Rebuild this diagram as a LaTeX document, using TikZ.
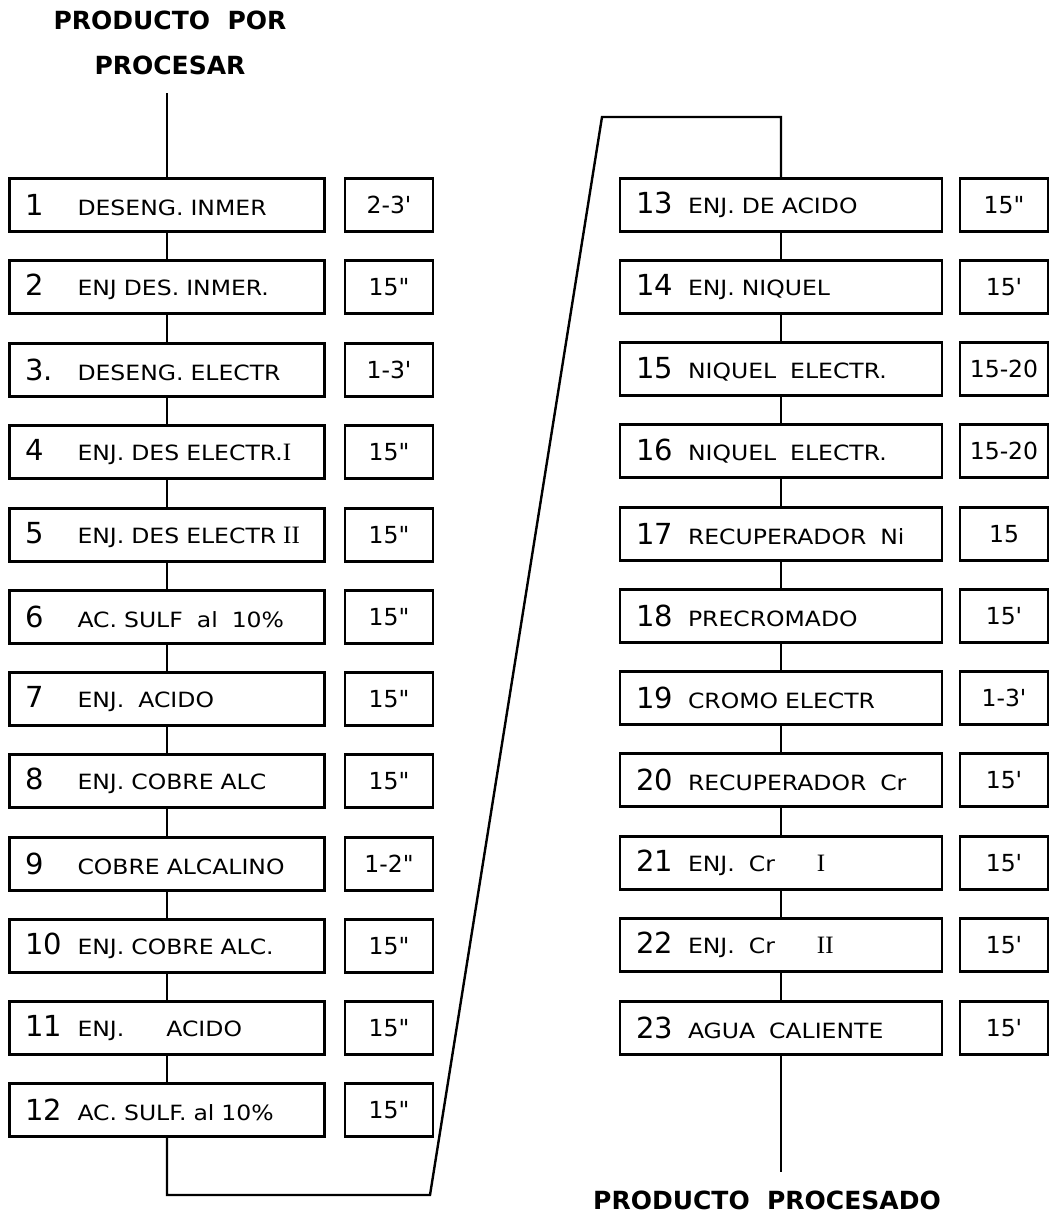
\documentclass[tikz,border=0pt]{standalone}
\usepackage{fontspec}
\setmainfont{DejaVu Sans}
\newfontfamily\lblfont[FakeStretch=1.12]{DejaVu Sans}
\newfontfamily\numfont{DejaVu Sans}
\newfontfamily\romfont{Liberation Serif}
\newcommand\nm[1]{\makebox[52pt][l]{\numfont\fontsize{29}{29}\selectfont #1}}
\newcommand\rn[1]{{\romfont\fontsize{25}{25}\selectfont #1}}
\begin{document}
\begin{tikzpicture}[x=1pt,y=-1pt,
  stepbox/.style={draw, line width=2.4pt, minimum height=53pt, inner xsep=16pt, inner ysep=0pt,
    font=\lblfont\fontsize{21}{22}\selectfont, align=left},
  lbox/.style={stepbox, text width=283pt},
  rbox/.style={stepbox, text width=290pt},
  tbox/.style={draw, line width=2.4pt, minimum width=88pt, minimum height=53pt, inner sep=0pt,
    font=\numfont\fontsize{23.5}{24}\selectfont},
  conn/.style={line width=2.4pt},
  title/.style={font=\bfseries\fontsize{25}{45}\selectfont, align=center, inner sep=0pt}
]
\useasboundingbox (0,0) rectangle (1054,1216);

% titles
\node[title] (top) at (170,43) {PRODUCTO\ \ POR\\PROCESAR};
\coordinate (topend) at (167,93);
\node[title] (bottom) at (767,1200) {PRODUCTO\ \ PROCESADO};
\coordinate (botend) at (781,1172);

% left column
\node[lbox] (b1)  at (167,205) {\nm{1}DESENG. INMER};
\node[lbox] (b2)  at (167,287) {\nm{2}ENJ DES. INMER.};
\node[lbox] (b3)  at (167,370) {\nm{3.}DESENG. ELECTR};
\node[lbox] (b4)  at (167,452) {\nm{4}ENJ. DES ELECTR.\rn{I}};
\node[lbox] (b5)  at (167,535) {\nm{5}ENJ. DES ELECTR \rn{II}};
\node[lbox] (b6)  at (167,617) {\nm{6}AC. SULF\ \ al\ \ 10\%};
\node[lbox] (b7)  at (167,699) {\nm{7}ENJ.\ \ ACIDO};
\node[lbox] (b8)  at (167,781) {\nm{8}ENJ. COBRE ALC};
\node[lbox] (b9)  at (167,864) {\nm{9}COBRE ALCALINO};
\node[lbox] (b10) at (167,946) {\nm{10}ENJ. COBRE ALC.};
\node[lbox] (b11) at (167,1028) {\nm{11}ENJ.\qquad ACIDO};
\node[lbox] (b12) at (167,1110) {\nm{12}AC. SULF. al 10\%};

\node[tbox] (t1)  at (389,205) {2-3'};
\node[tbox] (t2)  at (389,287) {15"};
\node[tbox] (t3)  at (389,370) {1-3'};
\node[tbox] (t4)  at (389,452) {15"};
\node[tbox] (t5)  at (389,535) {15"};
\node[tbox] (t6)  at (389,617) {15"};
\node[tbox] (t7)  at (389,699) {15"};
\node[tbox] (t8)  at (389,781) {15"};
\node[tbox] (t9)  at (389,864) {1-2"};
\node[tbox] (t10) at (389,946) {15"};
\node[tbox] (t11) at (389,1028) {15"};
\node[tbox] (t12) at (389,1110) {15"};

% right column
\node[rbox] (b13) at (781,205) {\nm{13}ENJ. DE ACIDO};
\node[rbox] (b14) at (781,287) {\nm{14}ENJ. NIQUEL};
\node[rbox] (b15) at (781,369) {\nm{15}NIQUEL\ \ ELECTR.};
\node[rbox] (b16) at (781,451) {\nm{16}NIQUEL\ \ ELECTR.};
\node[rbox] (b17) at (781,534) {\nm{17}RECUPERADOR\ \ Ni};
\node[rbox] (b18) at (781,616) {\nm{18}PRECROMADO};
\node[rbox] (b19) at (781,698) {\nm{19}CROMO ELECTR};
\node[rbox] (b20) at (781,780) {\nm{20}RECUPERADOR\ \ Cr};
\node[rbox] (b21) at (781,863) {\nm{21}ENJ.\ \ Cr\qquad\rn{I}};
\node[rbox] (b22) at (781,945) {\nm{22}ENJ.\ \ Cr\qquad\rn{II}};
\node[rbox] (b23) at (781,1028) {\nm{23}AGUA\ \ CALIENTE};

\node[tbox] (t13) at (1004,205) {15"};
\node[tbox] (t14) at (1004,287) {15'};
\node[tbox] (t15) at (1004,369) {15-20};
\node[tbox] (t16) at (1004,451) {15-20};
\node[tbox] (t17) at (1004,534) {15};
\node[tbox] (t18) at (1004,616) {15'};
\node[tbox] (t19) at (1004,698) {1-3'};
\node[tbox] (t20) at (1004,780) {15'};
\node[tbox] (t21) at (1004,863) {15'};
\node[tbox] (t22) at (1004,945) {15'};
\node[tbox] (t23) at (1004,1028) {15'};

% connectors
\draw[conn] (topend) -- (b1.north);
\foreach \a/\b in {1/2,2/3,3/4,4/5,5/6,6/7,7/8,8/9,9/10,10/11,11/12,
                   13/14,14/15,15/16,16/17,17/18,18/19,19/20,20/21,21/22,22/23}
  \draw[conn] (b\a.south) -- (b\b.north);

\coordinate (c1) at (167,1195);
\coordinate (c2) at (430,1195);
\coordinate (c3) at (602,117);
\coordinate (c4) at (781,117);
\draw[conn] (b12.south) -- (c1) -- (c2) -- (c3) -- (c4) -- (b13.north);
\draw[conn] (b23.south) -- (botend);
\end{tikzpicture}
\end{document}
